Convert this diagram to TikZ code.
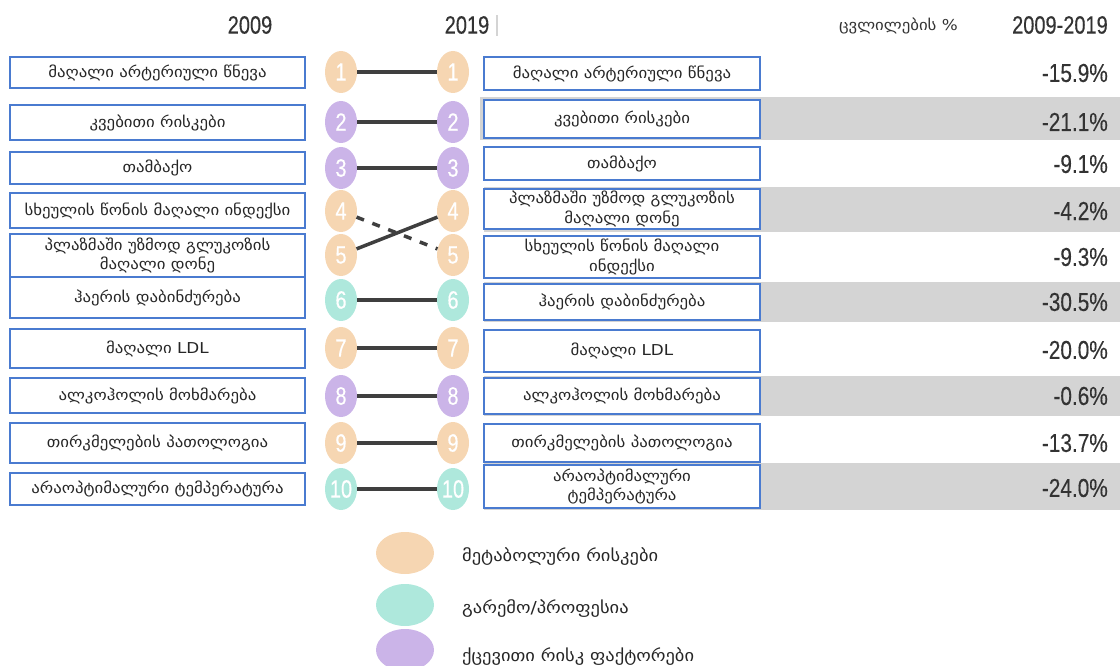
\documentclass[tikz,border=0pt]{standalone}
\usepackage{fontspec}
\usetikzlibrary{shapes.geometric}
\newfontfamily\geo[FakeStretch=1.12]{DejaVu Sans}
\newfontfamily\narrowfont[FakeStretch=0.8,FakeBold=0.3]{Liberation Sans}
\definecolor{peach}{HTML}{F6D6B2}
\definecolor{teal2}{HTML}{AEE8DC}
\definecolor{purp}{HTML}{CBB4E8}
\definecolor{boxblue}{HTML}{4A7BD0}
\definecolor{band}{HTML}{D4D4D4}
\definecolor{linegray}{HTML}{3F3F3F}
\definecolor{txtgray}{HTML}{333333}
\tikzset{
  lbox/.style={draw=boxblue, line width=1.2pt, fill=white, align=center, inner sep=0pt,
    font=\geo\fontsize{15}{19.5}\selectfont, text=black!85},
  circ/.style={ellipse, minimum width=32pt, minimum height=42pt, inner sep=0pt, text=white,
    font=\narrowfont\fontsize{25}{25}\selectfont},
  conn/.style={draw=linegray, line width=3.5pt},
  pct/.style={anchor=east, text=txtgray, font=\narrowfont\fontsize{26}{26}\selectfont, inner sep=0pt},
  hdr/.style={text=txtgray, font=\narrowfont\fontsize{25}{25}\selectfont, inner sep=0pt},
  legc/.style={ellipse, minimum width=58pt, minimum height=42pt, inner sep=0pt},
  legt/.style={anchor=west, inner sep=0pt, font=\geo\fontsize{16.5}{19}\selectfont, text=black!85},
}
\newcommand{\lbx}[4]{%
  \node[lbox, minimum width=295pt, minimum height={(#3-#2)*1pt}] (#1) at (157.5,{(#2+#3)/2}) {#4};}
\newcommand{\rbx}[4]{%
  \node[lbox, minimum width=276pt, minimum height={(#3-#2)*1pt}] (#1) at (622,{(#2+#3)/2}) {#4};}
\begin{document}
\begin{tikzpicture}[x=1pt,y=-1pt]
\useasboundingbox (0,0) rectangle (1120,666);
% headers
\node[hdr] (h1) at (250,25) {2009};
\node[hdr] (h2) at (467,25) {2019};
\fill[band] (496,15) rectangle (498,36);
\node[anchor=east, inner sep=0pt, font=\geo\fontsize{15}{17}\selectfont, text=black!80] (h3) at (958,26) {ცვლილების \%};
\node[hdr, anchor=east] (h4) at (1108,25) {2009-2019};
% gray bands
\fill[band] (480,97) rectangle (1120,140);
\fill[band] (484,187) rectangle (1120,232);
\fill[band] (484,282) rectangle (1120,322);
\fill[band] (484,376) rectangle (1120,416);
\fill[band] (484,463) rectangle (1120,510);
% left boxes
\lbx{l1}{57}{88}{მაღალი არტერიული წნევა}
\lbx{l2}{105}{140}{კვებითი რისკები}
\lbx{l3}{152}{184}{თამბაქო}
\lbx{l4}{193}{228}{სხეულის წონის მაღალი ინდექსი}
\lbx{l5}{234}{277}{პლაზმაში უზმოდ გლუკოზის\\მაღალი დონე}
\lbx{l6}{277}{318}{ჰაერის დაბინძურება}
\lbx{l7}{329}{368}{მაღალი LDL}
\lbx{l8}{378}{413}{ალკოჰოლის მოხმარება}
\lbx{l9}{423}{463}{თირკმელების პათოლოგია}
\lbx{l10}{473}{505}{არაოპტიმალური ტემპერატურა}
% right boxes
\rbx{r1}{57}{90}{მაღალი არტერიული წნევა}
\rbx{r2}{100}{138}{კვებითი რისკები}
\rbx{r3}{147}{180}{თამბაქო}
\rbx{r4}{189}{229}{პლაზმაში უზმოდ გლუკოზის\\მაღალი დონე}
\rbx{r5}{236}{278}{სხეულის წონის მაღალი\\ინდექსი}
\rbx{r6}{284}{320}{ჰაერის დაბინძურება}
\rbx{r7}{330}{372}{მაღალი LDL}
\rbx{r8}{378}{414}{ალკოჰოლის მოხმარება}
\rbx{r9}{424}{462}{თირკმელების პათოლოგია}
\rbx{r10}{465}{508}{არაოპტიმალური\\ტემპერატურა}
% circles
\foreach \i/\y/\c in {1/72/peach,2/122/purp,3/168/purp,4/211/peach,5/255/peach,6/300/teal2,7/348/peach,8/396/purp,9/443/peach,10/489/teal2}{
  \node[circ, fill=\c] (a\i) at (341,\y) {\i};
  \node[circ, fill=\c] (b\i) at (453,\y) {\i};
}
% connectors
\foreach \i in {1,2,3,6,7,8,9,10}{ \draw[conn] (a\i) -- (b\i); }
\draw[conn] (a5) -- (b4);
\draw[conn, dash pattern=on 8pt off 9pt] (a4) -- (b5);
% percentages
\node[pct] (p1) at (1108,73) {-15.9\%};
\node[pct] (p2) at (1108,122) {-21.1\%};
\node[pct] (p3) at (1108,164) {-9.1\%};
\node[pct] (p4) at (1108,211) {-4.2\%};
\node[pct] (p5) at (1108,257) {-9.3\%};
\node[pct] (p6) at (1108,302) {-30.5\%};
\node[pct] (p7) at (1108,350) {-20.0\%};
\node[pct] (p8) at (1108,396) {-0.6\%};
\node[pct] (p9) at (1108,443) {-13.7\%};
\node[pct] (p10) at (1108,488) {-24.0\%};
% legend
\node[legc, fill=peach] (g1) at (405,553) {};
\node[legc, fill=teal2] (g2) at (405,605) {};
\node[legc, fill=purp] (g3) at (405,650) {};
\node[legt] (t1) at (462,557) {მეტაბოლური რისკები};
\node[legt] (t2) at (462,609) {გარემო/პროფესია};
\node[legt] (t3) at (462,657) {ქცევითი რისკ ფაქტორები};
\end{tikzpicture}
\end{document}
